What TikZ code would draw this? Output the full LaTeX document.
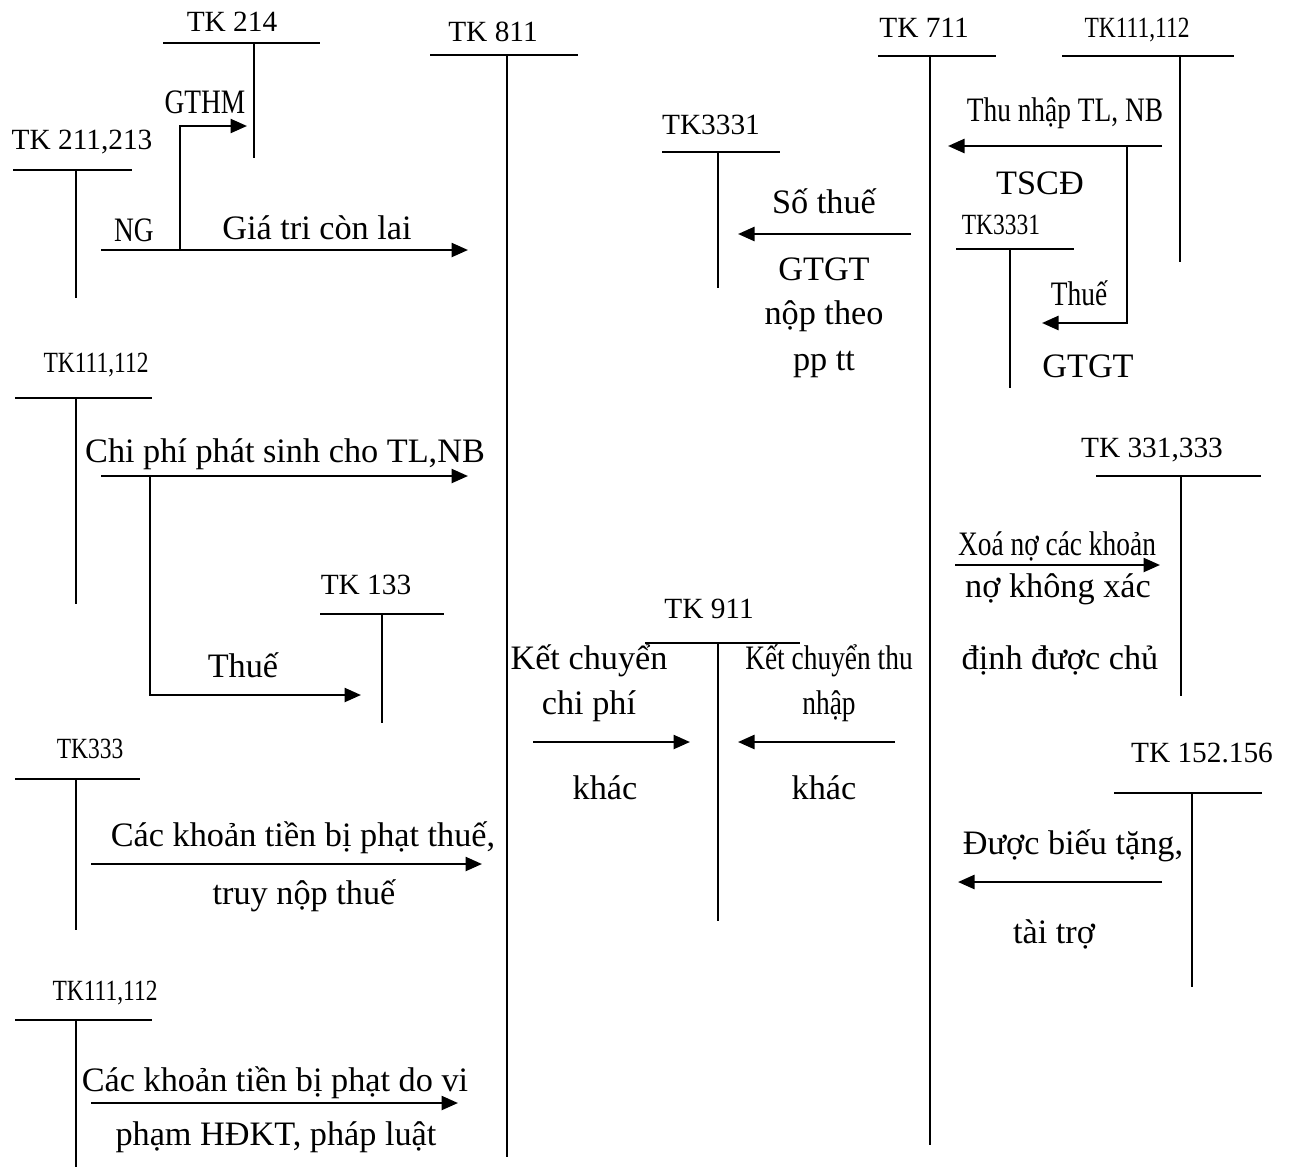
\documentclass[tikz,border=0pt]{standalone}
\usepackage{fontspec}
\setmainfont{Liberation Serif}
\newfontfamily\condfont[FakeStretch=0.8]{Liberation Serif}
\usetikzlibrary{arrows.meta}

\begin{document}
\begin{tikzpicture}[
  x=0.02cm, y=-0.02cm,
  every node/.style={font=\fontsize{19.5}{22}\selectfont, inner sep=0pt, align=center},
  acc/.style   ={font=\fontsize{16.7}{19}\selectfont},
  cacc/.style  ={font=\condfont\fontsize{16.7}{19}\selectfont},
  cond/.style  ={font=\condfont\fontsize{19.5}{22}\selectfont},
  tline/.style ={line width=0.9pt},
  flow/.style  ={-{Triangle[length=0.33cm,width=0.28cm]}, line width=1.4pt},
]
\useasboundingbox (0,0) rectangle (1291,1167);

%% ── T accounts, left side ────────────────────────────────
\node[acc]  (tk214)   at (232,22)  {TK 214};
\draw[tline] (163,43) -- (320,43);
\draw[tline] (254,43) -- (254,158);

\node[acc]  (tk211)   at (82,142)  {TK 211,213};
\draw[tline] (13,170) -- (132,170);
\draw[tline] (76,170) -- (76,298);

\node[cacc] (tk111a)  at (96,365)  {TK111,112};
\draw[tline] (15,398) -- (152,398);
\draw[tline] (76,398) -- (76,604);

\node[acc]  (tk133)   at (366,585) {TK 133};
\draw[tline] (320,614) -- (444,614);
\draw[tline] (382,614) -- (382,723);

\node[cacc] (tk333)   at (90,749)  {TK333};
\draw[tline] (15,779) -- (140,779);
\draw[tline] (76,779) -- (76,930);

\node[cacc] (tk111c)  at (105,993) {TK111,112};
\draw[tline] (15,1020) -- (152,1020);
\draw[tline] (76,1020) -- (76,1167);

%% ── TK 811 / TK 911 / TK 711 ─────────────────────────────
\node[acc]  (tk811)   at (493,32)  {TK 811};
\draw[tline] (430,55) -- (578,55);
\draw[tline] (507,55) -- (507,1157);

\node[acc]  (tk911)   at (709,609) {TK 911};
\draw[tline] (645,643) -- (800,643);
\draw[tline] (718,643) -- (718,921);

\node[acc]  (tk711)   at (924,28)  {TK 711};
\draw[tline] (878,56) -- (996,56);
\draw[tline] (930,56) -- (930,1145);

%% ── T accounts, right side ───────────────────────────────
\node[acc]  (tk3331a) at (711,125) {TK3331};
\draw[tline] (662,152) -- (780,152);
\draw[tline] (718,152) -- (718,288);

\node[cacc] (tk111b)  at (1137,30) {TK111,112};
\draw[tline] (1062,56) -- (1234,56);
\draw[tline] (1180,56) -- (1180,262);

\node[cacc] (tk3331b) at (1001,225) {TK3331};
\draw[tline] (956,249) -- (1074,249);
\draw[tline] (1010,249) -- (1010,388);

\node[acc]  (tk331)   at (1152,450) {TK 331,333};
\draw[tline] (1096,476) -- (1261,476);
\draw[tline] (1181,476) -- (1181,696);

\node[acc]  (tk152)   at (1202,753) {TK 152.156};
\draw[tline] (1114,793) -- (1262,793);
\draw[tline] (1192,793) -- (1192,987);

%% ── arrow end points ─────────────────────────────────────
\coordinate (ng_s)   at (101,250);
\coordinate (ng_e)   at (468,250);
\coordinate (ng_br)  at (180,250);
\coordinate (hm_e)   at (247,126);
\coordinate (cp_s)   at (101,476);
\coordinate (cp_e)   at (468,476);
\coordinate (cp_br)  at (150,476);
\coordinate (vat_e)  at (361,695);
\coordinate (pt_s)   at (91,864);
\coordinate (pt_e)   at (482,864);
\coordinate (hd_s)   at (91,1103);
\coordinate (hd_e)   at (458,1103);
\coordinate (kc1_s)  at (533,742);
\coordinate (kc1_e)  at (690,742);
\coordinate (kc2_s)  at (895,742);
\coordinate (kc2_e)  at (738,742);
\coordinate (st_s)   at (911,234);
\coordinate (st_e)   at (738,234);
\coordinate (tn_s)   at (1162,146);
\coordinate (tn_e)   at (948,146);
\coordinate (tn_br)  at (1127,146);
\coordinate (gt_e)   at (1042,323);
\coordinate (xn_s)   at (955,565);
\coordinate (xn_e)   at (1160,565);
\coordinate (bt_s)   at (1162,882);
\coordinate (bt_e)   at (958,882);

%% ── connectors ───────────────────────────────────────────
\draw[flow] (ng_s) -- (ng_e);
\draw[flow] (ng_br) |- (hm_e);
\draw[flow] (cp_s) -- (cp_e);
\draw[flow] (cp_br) |- (vat_e);
\draw[flow] (pt_s) -- (pt_e);
\draw[flow] (hd_s) -- (hd_e);
\draw[flow] (kc1_s) -- (kc1_e);
\draw[flow] (kc2_s) -- (kc2_e);
\draw[flow] (st_s) -- (st_e);
\draw[flow] (tn_s) -- (tn_e);
\draw[flow] (tn_br) |- (gt_e);
\draw[flow] (xn_s) -- (xn_e);
\draw[flow] (bt_s) -- (bt_e);

%% ── labels ───────────────────────────────────────────────
\node[cond] (l_gthm)  at (205,102) {GTHM};
\node[cond] (l_ng)    at (134,230) {NG};
\node       (l_gtcl)  at (317,228) {Giá tri còn lai};
\node       (l_cpps)  at (285,454) {Chi phí phát sinh cho TL,NB};
\node       (l_thue1) at (243,665) {Thuế};
\node       (l_pt1)   at (303,838) {Các khoản tiền bị phạt thuế,};
\node       (l_pt2)   at (304,896) {truy nộp thuế};
\node       (l_hd1)   at (275,1083) {Các khoản tiền bị phạt do vi};
\node       (l_hd2)   at (276,1137) {phạm HĐKT, pháp luật};

\node       (l_kc1a)  at (589,661) {Kết chuyển};
\node       (l_kc1b)  at (589,706) {chi phí};
\node       (l_kc1c)  at (605,788) {khác};
\node[cond] (l_kc2a)  at (829,661) {Kết chuyển thu};
\node[cond] (l_kc2b)  at (829,706) {nhập};
\node       (l_kc2c)  at (824,788) {khác};

\node       (l_st1)   at (824,201) {Số thuế};
\node       (l_st2)   at (824,269) {GTGT};
\node       (l_st3)   at (824,316) {nộp theo};
\node       (l_st4)   at (824,364) {pp tt};

\node[cond] (l_tn)    at (1065,113) {Thu nhập TL, NB};
\node       (l_tscd)  at (1040,183) {TSCĐ};
\node[cond] (l_thue2) at (1079,293) {Thuế};
\node       (l_gtgt)  at (1088,366) {GTGT};

\node[cond] (l_xn1)   at (1057,546) {Xoá nợ các khoản};
\node       (l_xn2)   at (1058,589) {nợ không xác};
\node       (l_xn3)   at (1060,660) {định được chủ};

\node       (l_bt1)   at (1073,846) {Được biếu tặng,};
\node       (l_bt2)   at (1054,934) {tài trợ};

\end{tikzpicture}
\end{document}
